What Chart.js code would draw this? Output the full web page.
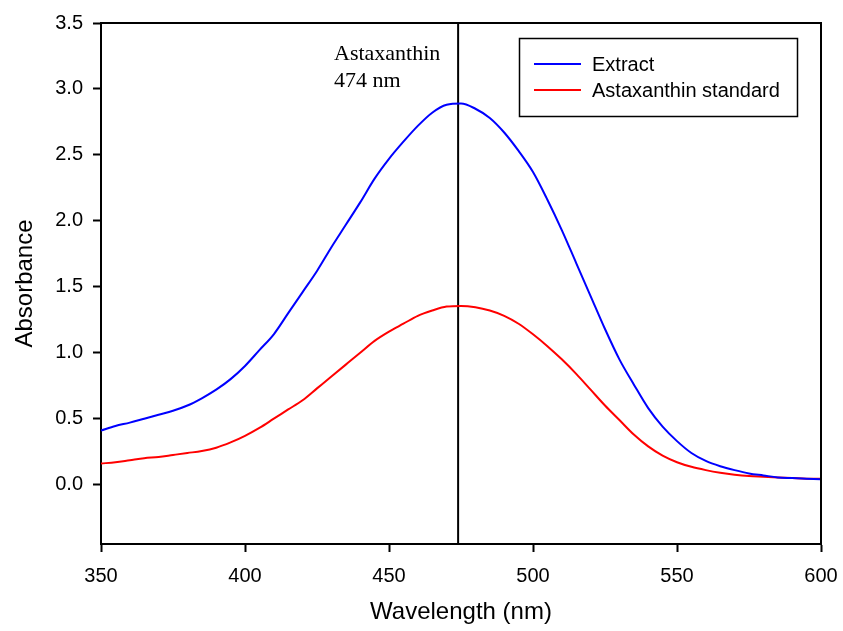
<!DOCTYPE html>
<html>
<head>
<meta charset="utf-8">
<script src="https://cdn.jsdelivr.net/npm/chart.js@4/dist/chart.umd.min.js"></script>
<style>
  html, body { margin: 0; padding: 0; background: #fff; }
  #wrap { width: 843px; height: 631px; }
</style>
</head>
<body>
<div id="wrap"><canvas id="myChart" width="843" height="631"></canvas></div>
<script>
// wavelengths (nm)
const wavelengths = [350, 355, 360, 365, 370, 375, 380, 385, 390, 395,
  400, 405, 410, 415, 420, 425, 430, 435, 440, 445,
  450, 455, 460, 465, 470, 475, 480, 485, 490, 495,
  500, 505, 510, 515, 520, 525, 530, 535, 540, 545,
  550, 555, 560, 565, 570, 575, 580, 585, 590, 595, 600];

const extract = [0.41, 0.445, 0.47, 0.50, 0.53, 0.56, 0.60, 0.655, 0.72, 0.80,
  0.90, 1.02, 1.14, 1.30, 1.46, 1.62, 1.80, 1.97, 2.14, 2.32,
  2.47, 2.60, 2.72, 2.82, 2.88, 2.89, 2.85, 2.78, 2.67, 2.53,
  2.37, 2.16, 1.93, 1.68, 1.43, 1.18, 0.95, 0.76, 0.58, 0.44,
  0.33, 0.24, 0.18, 0.14, 0.11, 0.085, 0.07, 0.055, 0.05, 0.045, 0.04];

const standard = [0.16, 0.17, 0.185, 0.20, 0.21, 0.225, 0.24, 0.255, 0.28, 0.32,
  0.37, 0.43, 0.50, 0.57, 0.64, 0.73, 0.82, 0.91, 1.00, 1.09,
  1.16, 1.22, 1.28, 1.32, 1.35, 1.355, 1.345, 1.32, 1.28, 1.22,
  1.14, 1.05, 0.95, 0.84, 0.72, 0.60, 0.49, 0.38, 0.29, 0.22,
  0.17, 0.135, 0.11, 0.09, 0.075, 0.065, 0.06, 0.055, 0.05, 0.045, 0.045];

const peakWavelength = 474;
const xTicks = [350, 400, 450, 500, 550, 600];
const yTicks = [0, 0.5, 1, 1.5, 2, 2.5, 3, 3.5];
const seriesLabels = ['Extract', 'Astaxanthin standard'];
const seriesColors = ['#0000ff', '#ff0000'];

const toPoints = (ys) => wavelengths.map((x, i) => ({ x: x, y: ys[i] }));

// top + right frame lines, annotation text, legend box
const framePlugin = {
  id: 'frame',
  afterDatasetsDraw(chart) {
    const { ctx, chartArea: a } = chart;
    ctx.save();
    ctx.strokeStyle = '#000';
    ctx.lineWidth = 2;
    ctx.beginPath();
    ctx.moveTo(a.left, a.top);
    ctx.lineTo(a.right, a.top);
    ctx.lineTo(a.right, a.bottom);
    ctx.stroke();

    // annotation
    ctx.fillStyle = '#000';
    ctx.font = '22px "Liberation Serif", "Times New Roman", serif';
    ctx.textBaseline = 'alphabetic';
    ctx.textAlign = 'left';
    ctx.fillText('Astaxanthin', 334, 60);
    ctx.fillText('474 nm', 334, 87);

    // legend
    ctx.lineWidth = 1.5;
    ctx.strokeRect(519.5, 38.5, 278, 78);
    ctx.font = '20px Arial, "Liberation Sans", sans-serif';
    ctx.textBaseline = 'middle';
    seriesLabels.forEach((lab, i) => {
      const y = 64 + i * 26;
      ctx.strokeStyle = seriesColors[i];
      ctx.lineWidth = 2;
      ctx.beginPath();
      ctx.moveTo(534, y);
      ctx.lineTo(581, y);
      ctx.stroke();
      ctx.fillText(lab, 592, y + 1);
    });
    ctx.restore();
  },
};

const ctx = document.getElementById('myChart').getContext('2d');
const myChart = new Chart(ctx, {
  type: 'line',
  data: {
    datasets: [
      {
        label: seriesLabels[0],
        data: toPoints(extract),
        borderColor: seriesColors[0],
        borderWidth: 2,
        cubicInterpolationMode: 'monotone',
      },
      {
        label: seriesLabels[1],
        data: toPoints(standard),
        borderColor: seriesColors[1],
        borderWidth: 2,
        cubicInterpolationMode: 'monotone',
      },
      {
        label: 'peak',
        data: [{ x: peakWavelength, y: -0.45 }, { x: peakWavelength, y: 3.5 }],
        borderColor: '#000',
        borderWidth: 2,
      },
    ],
  },
  options: {
    responsive: false,
    animation: false,
    layout: { padding: { left: 0, right: 22, top: 23, bottom: 0 } },
    plugins: {
      legend: { display: false },
      tooltip: { enabled: false },
    },
    elements: { point: { radius: 0 } },
    scales: {
      x: {
        type: 'linear',
        min: 350,
        max: 600,
        afterFit: (s) => { s.height = 87; s.paddingLeft = 0; s.paddingRight = 0; },
        afterBuildTicks: (s) => { s.ticks = xTicks.map((v) => ({ value: v })); },
        grid: {
          drawOnChartArea: false,
          drawTicks: true,
          tickLength: 8,
          tickWidth: 2,
          tickColor: '#000',
        },
        border: { display: true, color: '#000', width: 2 },
        ticks: {
          color: '#000',
          padding: 12,
          font: { family: 'Arial, "Liberation Sans"', size: 20 },
        },
        title: {
          display: true,
          text: 'Wavelength (nm)',
          color: '#000',
          font: { family: 'Arial, "Liberation Sans"', size: 24 },
          padding: { top: 4, bottom: 4 },
        },
      },
      y: {
        min: -0.45,
        max: 3.5,
        afterFit: (s) => { s.width = 101; s.paddingTop = 0; s.paddingBottom = 0; },
        afterBuildTicks: (s) => { s.ticks = yTicks.map((v) => ({ value: v })); },
        grid: {
          drawOnChartArea: false,
          drawTicks: true,
          tickLength: 8,
          tickWidth: 2,
          tickColor: '#000',
        },
        border: { display: true, color: '#000', width: 2 },
        ticks: {
          color: '#000',
          padding: 10,
          font: { family: 'Arial, "Liberation Sans"', size: 20 },
          callback: (v) => Number(v).toFixed(1),
        },
        title: {
          display: true,
          text: 'Absorbance',
          color: '#000',
          font: { family: 'Arial, "Liberation Sans"', size: 24 },
          padding: { top: 11, bottom: 4 },
        },
      },
    },
  },
  plugins: [framePlugin],
});
</script>
</body>
</html>
